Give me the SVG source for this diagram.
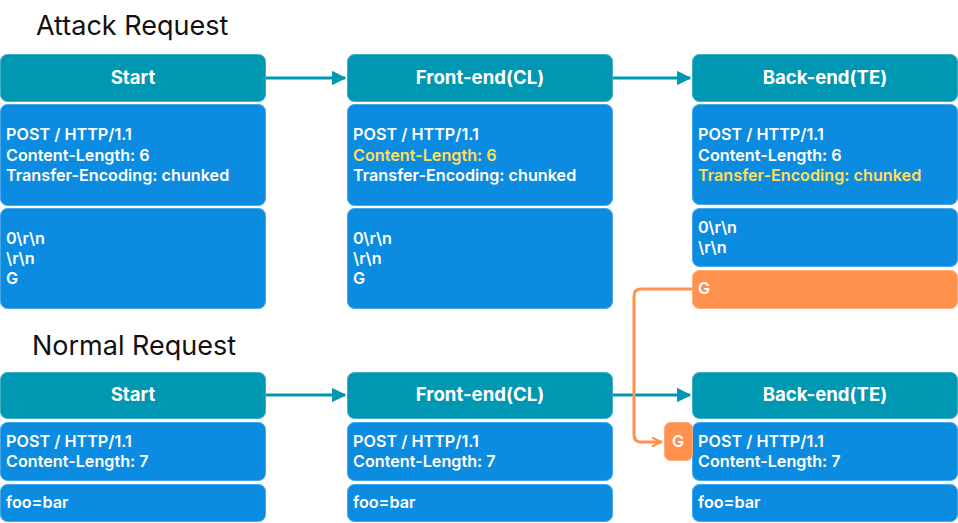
<svg xmlns="http://www.w3.org/2000/svg" width="958" height="523" viewBox="0 0 958 523">
<defs>
<style>
.title{font-family:Inter,"Noto Sans","Liberation Sans",sans-serif;font-size:27px;fill:#111;}
.hdr{fill:#0097B2;stroke:#3fb0c6;stroke-width:1;}
.body{fill:#0C8CE0;stroke:#46a8ea;stroke-width:1;}
.org{fill:#FF914D;stroke:#ffab78;stroke-width:1;}
.ht{font-family:Inter,"Noto Sans","Liberation Sans",sans-serif;font-size:18.6px;font-weight:700;fill:#fff;text-anchor:middle;}
.bt{font-family:Inter,"Noto Sans","Liberation Sans",sans-serif;font-size:16.2px;font-weight:600;fill:#fff;}
.hl{fill:#FFDE59;}
.conn{fill:none;stroke:#0097B2;stroke-width:3;}
.oconn{fill:none;stroke:#FF914D;stroke-width:3;stroke-linejoin:round;stroke-linecap:round;}
</style>
<marker id="ah" viewBox="0 0 10 10" refX="9" refY="5" markerWidth="4.8" markerHeight="4.8" orient="auto" markerUnits="strokeWidth">
<path d="M0,0 L10,5 L0,10 z" fill="#0097B2"/>
</marker>
<marker id="oah" viewBox="0 0 10 10" refX="9" refY="5" markerWidth="3.5" markerHeight="3.5" orient="auto" markerUnits="strokeWidth">
<path d="M1,1 L9,5 L1,9" fill="none" stroke="#FF914D" stroke-width="2" stroke-linecap="round" stroke-linejoin="round"/>
</marker>
</defs>
<rect width="958" height="523" fill="#fff"/>
<text class="title" x="36" y="35">Attack Request</text>
<text class="title" x="32" y="355">Normal Request</text>

<g id="connectors">
<path class="conn" d="M265,78 H345" marker-end="url(#ah)"/>
<path class="conn" d="M612,78 H690" marker-end="url(#ah)"/>
<path class="conn" d="M265,395 H345" marker-end="url(#ah)"/>
<path class="conn" d="M612,395 H690" marker-end="url(#ah)"/>
<path class="oconn" d="M692,289 H641 Q634,289 634,296 V435 Q634,442 641,442 H661" marker-end="url(#oah)"/>
</g>

<g id="attack-start">
<rect class="hdr" x="0.5" y="54.5" width="265" height="47" rx="7"/>
<text class="ht" x="133" y="84">Start</text>
<rect class="body" x="0.5" y="104.5" width="265" height="101" rx="7"/>
<text class="bt" x="6" y="140">POST / HTTP/1.1</text>
<text class="bt" x="6" y="161">Content-Length: 6</text>
<text class="bt" x="6" y="181">Transfer-Encoding: chunked</text>
<rect class="body" x="0.5" y="208.5" width="265" height="100" rx="7"/>
<text class="bt" x="6" y="244">0\r\n</text>
<text class="bt" x="6" y="264">\r\n</text>
<text class="bt" x="6" y="284">G</text>
</g>

<g id="attack-frontend">
<rect class="hdr" x="347.5" y="54.5" width="265" height="47" rx="7"/>
<text class="ht" x="480" y="84">Front-end(CL)</text>
<rect class="body" x="347.5" y="104.5" width="265" height="101" rx="7"/>
<text class="bt" x="353" y="140">POST / HTTP/1.1</text>
<text class="bt hl" x="353" y="161">Content-Length: 6</text>
<text class="bt" x="353" y="181">Transfer-Encoding: chunked</text>
<rect class="body" x="347.5" y="208.5" width="265" height="100" rx="7"/>
<text class="bt" x="353" y="244">0\r\n</text>
<text class="bt" x="353" y="264">\r\n</text>
<text class="bt" x="353" y="284">G</text>
</g>

<g id="attack-backend">
<rect class="hdr" x="692.5" y="54.5" width="265" height="47" rx="7"/>
<text class="ht" x="825" y="84">Back-end(TE)</text>
<rect class="body" x="692.5" y="104.5" width="265" height="100" rx="7"/>
<text class="bt" x="698" y="140">POST / HTTP/1.1</text>
<text class="bt" x="698" y="161">Content-Length: 6</text>
<text class="bt hl" x="698" y="181">Transfer-Encoding: chunked</text>
<rect class="body" x="692.5" y="208.5" width="265" height="58" rx="7"/>
<text class="bt" x="698" y="233">0\r\n</text>
<text class="bt" x="698" y="253">\r\n</text>
</g>

<g id="smuggled-g">
<rect class="org" x="692.5" y="270.5" width="265" height="38" rx="7"/>
<text class="bt" x="698" y="294">G</text>
</g>

<g id="normal-start">
<rect class="hdr" x="0.5" y="372.5" width="265" height="46" rx="7"/>
<text class="ht" x="133" y="401">Start</text>
<rect class="body" x="0.5" y="422.5" width="265" height="58" rx="7"/>
<text class="bt" x="6" y="447">POST / HTTP/1.1</text>
<text class="bt" x="6" y="467">Content-Length: 7</text>
<rect class="body" x="0.5" y="484.5" width="265" height="37" rx="7"/>
<text class="bt" x="6" y="508">foo=bar</text>
</g>

<g id="normal-frontend">
<rect class="hdr" x="347.5" y="372.5" width="265" height="46" rx="7"/>
<text class="ht" x="480" y="401">Front-end(CL)</text>
<rect class="body" x="347.5" y="422.5" width="265" height="58" rx="7"/>
<text class="bt" x="353" y="447">POST / HTTP/1.1</text>
<text class="bt" x="353" y="467">Content-Length: 7</text>
<rect class="body" x="347.5" y="484.5" width="265" height="37" rx="7"/>
<text class="bt" x="353" y="508">foo=bar</text>
</g>

<g id="normal-backend">
<rect class="hdr" x="692.5" y="372.5" width="265" height="46" rx="7"/>
<text class="ht" x="825" y="401">Back-end(TE)</text>
<rect class="body" x="692.5" y="422.5" width="265" height="58" rx="7"/>
<text class="bt" x="698" y="447">POST / HTTP/1.1</text>
<text class="bt" x="698" y="467">Content-Length: 7</text>
<rect class="body" x="692.5" y="484.5" width="265" height="37" rx="7"/>
<text class="bt" x="698" y="508">foo=bar</text>
</g>

<g id="prefix-g">
<rect class="org" x="664.5" y="422.5" width="28" height="38" rx="6"/>
<text class="bt" x="678" y="447" text-anchor="middle">G</text>
</g>
</svg>
